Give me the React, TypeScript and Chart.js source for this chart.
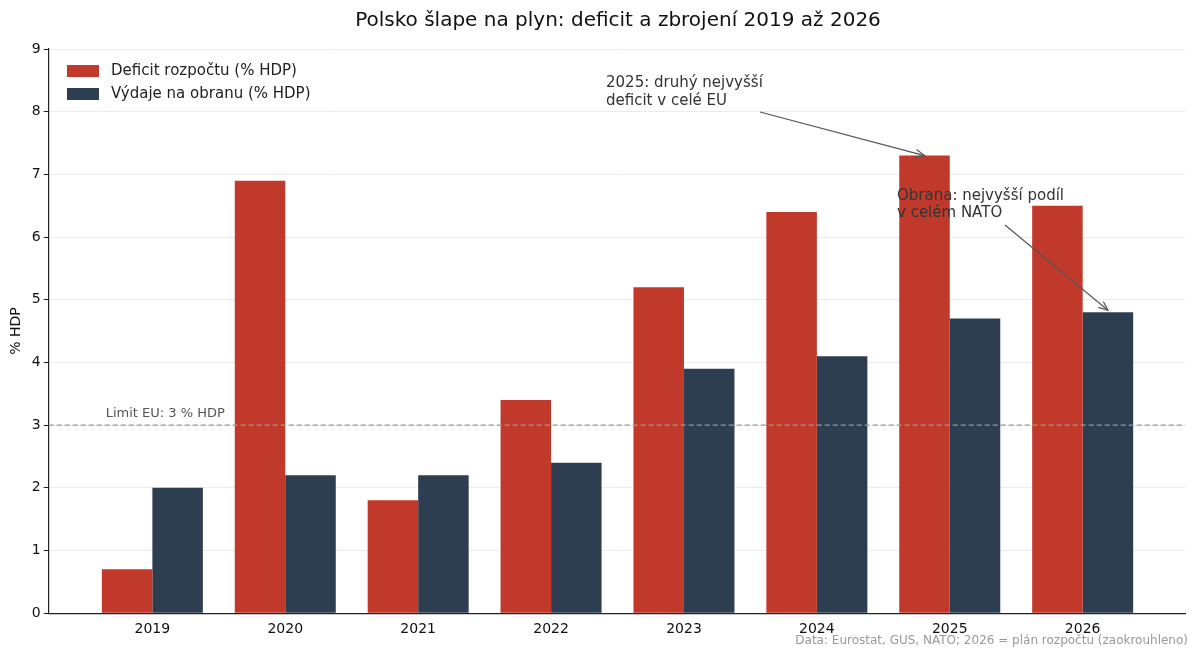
import React, { useEffect, useRef } from "react";
import { Chart, registerables } from "chart.js";
Chart.register(...registerables);

const years = ["2019", "2020", "2021", "2022", "2023", "2024", "2025", "2026"];
const deficit = [0.7, 6.9, 1.8, 3.4, 5.2, 6.4, 7.3, 6.5];
const defense = [2.0, 2.2, 2.2, 2.4, 3.9, 4.1, 4.7, 4.8];
const FONT = "'DejaVu Sans', sans-serif";

function arrow(ctx: CanvasRenderingContext2D, x1: number, y1: number, x2: number, y2: number) {
  ctx.save();
  ctx.strokeStyle = "#555";
  ctx.lineWidth = 1.2;
  ctx.beginPath(); ctx.moveTo(x1, y1); ctx.lineTo(x2, y2); ctx.stroke();
  const a = Math.atan2(y2 - y1, x2 - x1);
  ctx.beginPath();
  ctx.moveTo(x2 - 10 * Math.cos(a - 0.4), y2 - 10 * Math.sin(a - 0.4));
  ctx.lineTo(x2, y2);
  ctx.lineTo(x2 - 10 * Math.cos(a + 0.4), y2 - 10 * Math.sin(a + 0.4));
  ctx.stroke();
  ctx.restore();
}

const overlay = {
  id: "overlay",
  afterDatasetsDraw(chart: any) {
    const ctx = chart.ctx as CanvasRenderingContext2D;
    const { left, right } = chart.chartArea;
    const y = chart.scales.y;
    const y3 = y.getPixelForValue(3);
    ctx.save();
    ctx.strokeStyle = "#999"; ctx.lineWidth = 1.2; ctx.setLineDash([5, 3]);
    ctx.beginPath(); ctx.moveTo(left, y3); ctx.lineTo(right, y3); ctx.stroke();
    ctx.setLineDash([]);
    ctx.font = `13px ${FONT}`; ctx.fillStyle = "#555"; ctx.textBaseline = "bottom";
    ctx.fillText("Limit EU: 3 % HDP", left + 57, y3 - 5);
    ctx.font = `15px ${FONT}`; ctx.textBaseline = "middle"; ctx.fillStyle = "#222";
    const items: [string, string][] = [["Deficit rozpočtu (% HDP)", "#c0392b"], ["Výdaje na obranu (% HDP)", "#2c3e50"]];
    items.forEach(([t, c], i) => {
      const yy = 71 + i * 23;
      ctx.fillStyle = c; ctx.fillRect(67, yy - 6, 32, 12);
      ctx.fillStyle = "#222"; ctx.fillText(t, 111, yy);
    });
    const d = chart.getDatasetMeta(0).data[6];
    const o = chart.getDatasetMeta(1).data[7];
    ctx.font = `15px ${FONT}`; ctx.fillStyle = "#333"; ctx.textBaseline = "middle";
    ctx.fillText("2025: druhý nejvyšší", 606, 83);
    ctx.fillText("deficit v celé EU", 606, 101);
    arrow(ctx, 760, 112, d.x, d.y);
    ctx.fillStyle = "#333";
    ctx.fillText("Obrana: nejvyšší podíl", 897, 196);
    ctx.fillText("v celém NATO", 897, 213);
    arrow(ctx, 1005, 225, o.x, o.y - 2);
    ctx.font = `20px ${FONT}`; ctx.fillStyle = "#111"; ctx.textAlign = "center";
    ctx.fillText("Polsko šlape na plyn: deficit a zbrojení 2019 až 2026", 618, 21);
    ctx.font = `12px ${FONT}`; ctx.fillStyle = "#999"; ctx.textAlign = "right";
    ctx.fillText("Data: Eurostat, GUS, NATO; 2026 = plán rozpočtu (zaokrouhleno)", 1188, 641);
    ctx.restore();
  },
};

export default function App() {
  const ref = useRef<HTMLCanvasElement>(null);
  useEffect(() => {
    document.body.style.margin = "0";
    const chart = new Chart(ref.current!, {
      type: "bar",
      data: {
        datasets: [
          { label: "Deficit rozpočtu (% HDP)", data: deficit.map((v, i) => ({ x: i, y: v })), backgroundColor: "#c0392b" },
          { label: "Výdaje na obranu (% HDP)", data: defense.map((v, i) => ({ x: i, y: v })), backgroundColor: "#2c3e50" },
        ],
      },
      options: {
        animation: false,
        responsive: false,
        layout: { padding: { top: 49, right: 15, bottom: 18, left: 4 } },
        datasets: { bar: { categoryPercentage: 0.76, barPercentage: 1.0 } },
        plugins: { legend: { display: false }, tooltip: { enabled: false } },
        scales: {
          x: {
            type: "linear",
            min: -0.78,
            max: 7.77,
            offset: false,
            afterBuildTicks: (s: any) => { s.ticks = years.map((_, i) => ({ value: i })); },
            grid: { display: false, drawTicks: true, tickLength: 5 },
            border: { color: "#222", width: 1.2 },
            ticks: { color: "#111", font: { family: FONT, size: 14 }, callback: (v: any) => years[v] ?? "" },
          },
          y: {
            min: 0, max: 9,
            grid: { color: "#ebebeb", tickLength: 5, tickColor: "#222" },
            border: { color: "#222", width: 1.2 },
            ticks: { stepSize: 1, color: "#111", font: { family: FONT, size: 14 } },
            title: { display: true, text: "% HDP", color: "#111", font: { family: FONT, size: 14 } },
          },
        },
      } as any,
      plugins: [overlay],
    });
    return () => chart.destroy();
  }, []);
  return <canvas ref={ref} width={1200} height={659} />;
}
